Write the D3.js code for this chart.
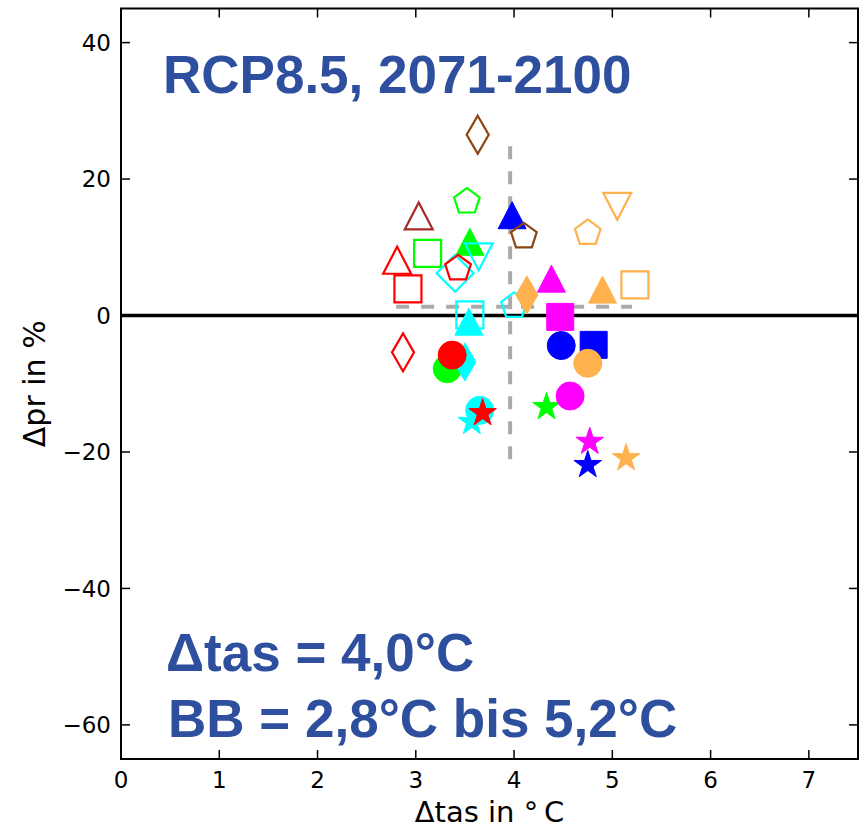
<!DOCTYPE html>
<html>
<head>
<meta charset="utf-8">
<script src="https://cdn.jsdelivr.net/npm/d3@7"></script>
<style>
  html, body { margin: 0; padding: 0; background: #ffffff; }
  svg { display: block; }
</style>
</head>
<body>
<svg id="chart" width="863" height="829"></svg>
<script>
// Projected change of temperature (Δtas, °C) and precipitation (Δpr, %)
// for the individual model runs, RCP8.5, 2071-2100.
const dtas = [3.63, 3.52, 3.03, 3.98, 4.10, 3.12, 3.55, 3.64, 3.40, 3.43, 2.81, 2.92,
              3.55, 3.54, 2.87, 3.32, 3.50, 3.37, 3.57, 3.65, 3.68, 4.33, 4.00, 4.13,
              4.38, 5.05, 4.75, 4.90, 5.23, 4.47, 4.48, 4.81, 4.75, 4.57, 4.77, 4.75, 5.14];
const dpr  = [26.5, 16.7, 14.6, 14.7, 11.6, 9.1, 10.8, 8.6, 6.2, 6.9, 8.1, 3.9,
              0.1, -0.9, -5.4, -7.8, -6.8, -5.8, -15.6, -13.9, -14.3, -13.4, 1.4, 3.0,
              5.4, 16.0, 12.1, 3.8, 4.5, -0.2, -4.4, -4.3, -7.0, -11.8, -18.5, -21.9, -20.9];
const markerShape = ["thinDiamond", "pentagon", "triangleUp", "triangleUp", "pentagon", "square",
              "triangleUp", "triangleDown", "diamond", "pentagon", "triangleUp", "square",
              "square", "triangleUp", "thinDiamond", "circle", "thinDiamond", "circle",
              "star", "circle", "star", "star", "pentagon", "thinDiamond",
              "triangleUp", "triangleDown", "pentagon", "triangleUp", "square", "square",
              "circle", "square", "circle", "circle", "star", "star", "star"];
const markerColor = ["#8b4513", "#00ff00", "#a52a2a", "#0000ff", "#8b4513", "#00ff00",
              "#00ff00", "#00ffff", "#00ffff", "#ff0000", "#ff0000", "#ff0000",
              "#00ffff", "#00ffff", "#ff0000", "#00ff00", "#00ffff", "#ff0000",
              "#00ffff", "#00ffff", "#ff0000", "#00ff00", "#00ffff", "#ffb14e",
              "#ff00ff", "#ffb14e", "#ffb14e", "#ffb14e", "#ffb14e", "#ff00ff",
              "#0000ff", "#0000ff", "#ffb14e", "#ff00ff", "#ff00ff", "#0000ff", "#ffb14e"];
const markerFilled = [false, false, false, true, false, false,
              true, false, false, false, false, false,
              false, true, false, true, true, true,
              true, true, true, true, false, true,
              true, false, false, true, false, true,
              true, true, true, true, true, true, true];

// Ensemble mean and range
const meanTas = 3.96;
const meanPr = 1.3;
const rangeTas = [2.8, 5.2];
const rangePr = [-22.0, 24.8];

const xTicks = [0, 1, 2, 3, 4, 5, 6, 7];
const yTicks = [-60, -40, -20, 0, 20, 40];

const titleText = "RCP8.5, 2071-2100";
const noteLines = ["Δtas = 4,0°C", "BB = 2,8°C bis 5,2°C"];

const svg = d3.select("#chart");
const x0 = 121, x1 = 858, y0 = 8.5, y1 = 759;

const x = d3.scaleLinear().domain([0, 7.5]).range([x0, x1]);
const y = d3.scaleLinear().domain([-65, 45]).range([y1, y0]);

const plot = svg.append("g");

// range / mean guides
plot.append("line")
  .attr("x1", x(rangeTas[0])).attr("x2", x(rangeTas[1]))
  .attr("y1", y(meanPr)).attr("y2", y(meanPr))
  .attr("stroke", "#aaaaaa").attr("stroke-width", 4)
  .attr("stroke-dasharray", "13,12");
plot.append("line")
  .attr("x1", x(meanTas)).attr("x2", x(meanTas))
  .attr("y1", y(rangePr[1])).attr("y2", y(rangePr[0]))
  .attr("stroke", "#aaaaaa").attr("stroke-width", 4)
  .attr("stroke-dasharray", "13,12");

// zero line
plot.append("line")
  .attr("x1", x(0)).attr("x2", x(7.5))
  .attr("y1", y(0)).attr("y2", y(0))
  .attr("stroke", "#000").attr("stroke-width", 3.5);

// marker shapes in local pixel units
function polygon(pts) { return "M" + pts.map(p => p[0].toFixed(2) + "," + p[1].toFixed(2)).join("L") + "Z"; }
function regular(n, r, inner) {
  const pts = [];
  const step = Math.PI / n;
  for (let k = 0; k < 2 * n; k++) {
    if (inner === undefined && k % 2 === 1) continue;
    const rr = (k % 2 === 0) ? r : r * inner;
    const a = -Math.PI / 2 + k * step;
    pts.push([rr * Math.cos(a), rr * Math.sin(a)]);
  }
  return polygon(pts);
}
const shapePath = {
  circle: () => "M14,0A14,14 0 1,1 -14,0A14,14 0 1,1 14,0Z",
  square: () => polygon([[-13.5, -13.5], [13.5, -13.5], [13.5, 13.5], [-13.5, 13.5]]),
  triangleUp: () => polygon([[0, -13.5], [14, 13.5], [-14, 13.5]]),
  triangleDown: () => polygon([[0, 13.5], [14, -13.5], [-14, -13.5]]),
  thinDiamond: () => polygon([[0, -19], [11, 0], [0, 19], [-11, 0]]),
  diamond: () => polygon([[0, -18.5], [18.5, 0], [0, 18.5], [-18.5, 0]]),
  pentagon: () => regular(5, 13.5),
  star: () => regular(5, 14.5, 0.382)
};

const points = dtas.map((v, i) => ({ t: v, p: dpr[i], shape: markerShape[i], color: markerColor[i], filled: markerFilled[i] }));

plot.selectAll("path.marker")
  .data(points)
  .join("path")
  .attr("class", "marker")
  .attr("transform", d => `translate(${x(d.t)},${y(d.p)})`)
  .attr("d", d => shapePath[d.shape]())
  .attr("fill", d => d.filled ? d.color : "none")
  .attr("stroke", d => d.color)
  .attr("stroke-width", d => d.filled ? 1 : 2.2)
  .attr("stroke-linejoin", "miter");

// frame
svg.append("rect")
  .attr("x", x0).attr("y", y0)
  .attr("width", x1 - x0).attr("height", y1 - y0)
  .attr("fill", "none").attr("stroke", "#000").attr("stroke-width", 2);

// inward ticks on all four sides
const tickLen = 9;
const ticks = svg.append("g").attr("stroke", "#000").attr("stroke-width", 1.5);
xTicks.forEach(t => {
  ticks.append("line").attr("x1", x(t)).attr("x2", x(t)).attr("y1", y1).attr("y2", y1 - tickLen);
  ticks.append("line").attr("x1", x(t)).attr("x2", x(t)).attr("y1", y0).attr("y2", y0 + tickLen);
});
yTicks.forEach(t => {
  ticks.append("line").attr("x1", x0).attr("x2", x0 + tickLen).attr("y1", y(t)).attr("y2", y(t));
  ticks.append("line").attr("x1", x1).attr("x2", x1 - tickLen).attr("y1", y(t)).attr("y2", y(t));
});

const fmt = v => (v < 0 ? "\u2212" + Math.abs(v) : String(v));
const labelFont = "'DejaVu Sans', sans-serif";

svg.append("g").selectAll("text")
  .data(xTicks).join("text")
  .attr("x", d => x(d)).attr("y", 788)
  .attr("text-anchor", "middle")
  .attr("font-family", labelFont).attr("font-size", 23)
  .text(fmt);

svg.append("g").selectAll("text")
  .data(yTicks).join("text")
  .attr("x", x0 - 10).attr("y", d => y(d)).attr("dy", "0.36em")
  .attr("text-anchor", "end")
  .attr("font-family", labelFont).attr("font-size", 23)
  .text(fmt);

// axis titles
svg.append("text")
  .attr("x", (x0 + x1) / 2).attr("y", 822)
  .attr("text-anchor", "middle")
  .attr("font-family", labelFont).attr("font-size", 29)
  .text("Δtas in °\u2009C");

svg.append("text")
  .attr("transform", `translate(45,${(y0 + y1) / 2}) rotate(-90)`)
  .attr("text-anchor", "middle")
  .attr("font-family", labelFont).attr("font-size", 30)
  .text("Δpr in %");

// annotations
const noteFont = "'Liberation Sans', Arial, sans-serif";
const noteColor = "#2e4e9e";
svg.append("text")
  .attr("x", 163).attr("y", 93)
  .attr("font-family", noteFont).attr("font-weight", "bold").attr("font-size", 53)
  .attr("fill", noteColor)
  .text(titleText);

svg.append("g").selectAll("text")
  .data(noteLines).join("text")
  .attr("x", (d, i) => i === 0 ? 166 : 168)
  .attr("y", (d, i) => i === 0 ? 671 : 737)
  .attr("font-family", noteFont).attr("font-weight", "bold").attr("font-size", 53)
  .attr("fill", noteColor)
  .text(d => d);
</script>
</body>
</html>
